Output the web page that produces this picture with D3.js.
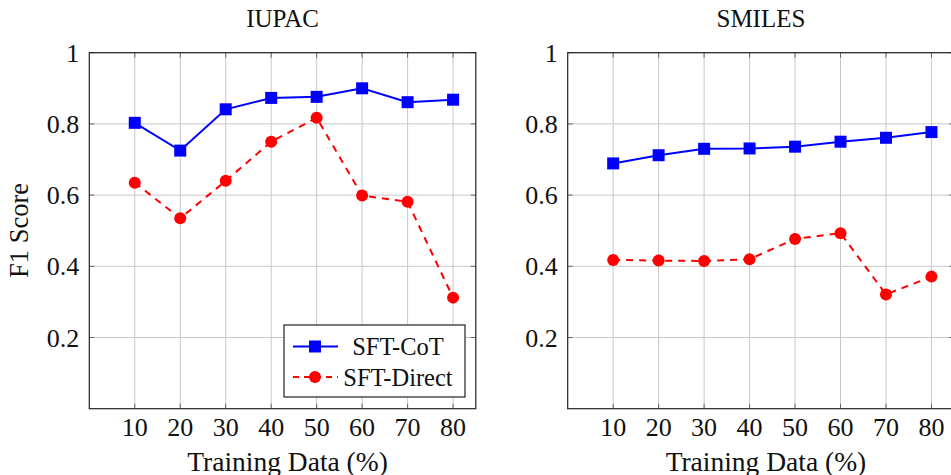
<!DOCTYPE html>
<html><head><meta charset="utf-8">
<script src="https://cdn.jsdelivr.net/npm/d3@7"></script>
<style>body{margin:0;background:#fff}svg{display:block}</style>
</head><body>
<svg id="c" width="951" height="475"></svg>
<script>
const xValues = [10, 20, 30, 40, 50, 60, 70, 80];
const xTicks = [10, 20, 30, 40, 50, 60, 70, 80];
const yTicks = [0.2, 0.4, 0.6, 0.8, 1];
const panels = ["IUPAC", "SMILES"];
const seriesNames = ["SFT-CoT", "SFT-Direct"];
const iupacCoT = [0.803, 0.725, 0.841, 0.873, 0.876, 0.900, 0.861, 0.868];
const iupacDirect = [0.635, 0.535, 0.640, 0.750, 0.817, 0.599, 0.581, 0.312];
const smilesCoT = [0.689, 0.712, 0.730, 0.731, 0.736, 0.750, 0.761, 0.777];
const smilesDirect = [0.418, 0.416, 0.415, 0.420, 0.477, 0.493, 0.321, 0.371];

const svg = d3.select("#c");
const font = "'Liberation Serif', 'Times New Roman', serif";
const W = 386.5, plotTop = 52.7, plotBottom = 408.7;
const lefts = [89.3, 567.7];
const data = [[iupacCoT, iupacDirect], [smilesCoT, smilesDirect]];
const y = d3.scaleLinear().domain([0, 1]).range([plotBottom, plotTop]);
const dash = "7,6";

panels.forEach((title, pi) => {
  const x = d3.scaleLinear().domain([0, 85]).range([lefts[pi], lefts[pi] + W]);
  const g = svg.append("g");
  g.selectAll(".gx").data(xTicks).join("line")
    .attr("x1", d => x(d)).attr("x2", d => x(d)).attr("y1", plotTop).attr("y2", plotBottom)
    .attr("stroke", "#c8c8c8").attr("stroke-width", 1);
  g.selectAll(".gy").data(yTicks).join("line")
    .attr("x1", x(0)).attr("x2", x(85)).attr("y1", d => y(d)).attr("y2", d => y(d))
    .attr("stroke", "#c8c8c8").attr("stroke-width", 1);
  const tl = 5;
  g.selectAll(".tb").data(xTicks).join("line")
    .attr("x1", d => x(d)).attr("x2", d => x(d)).attr("y1", plotBottom).attr("y2", plotBottom - tl)
    .attr("stroke", "#666").attr("stroke-width", 1);
  g.selectAll(".tt").data(xTicks).join("line")
    .attr("x1", d => x(d)).attr("x2", d => x(d)).attr("y1", plotTop).attr("y2", plotTop + tl)
    .attr("stroke", "#666").attr("stroke-width", 1);
  g.selectAll(".tlft").data(yTicks).join("line")
    .attr("x1", x(0)).attr("x2", x(0) + tl).attr("y1", d => y(d)).attr("y2", d => y(d))
    .attr("stroke", "#666").attr("stroke-width", 1);
  g.selectAll(".trt").data(yTicks).join("line")
    .attr("x1", x(85)).attr("x2", x(85) - tl).attr("y1", d => y(d)).attr("y2", d => y(d))
    .attr("stroke", "#666").attr("stroke-width", 1);
  g.append("rect").attr("x", x(0)).attr("y", plotTop).attr("width", x(85) - x(0)).attr("height", plotBottom - plotTop)
    .attr("fill", "none").attr("stroke", "#222").attr("stroke-width", 1.2);
  g.selectAll(".xl").data(xTicks).join("text")
    .attr("x", d => x(d)).attr("y", 436).attr("text-anchor", "middle")
    .attr("font-family", font).attr("font-size", 26).attr("fill", "#111").text(d => d);
  g.selectAll(".yl").data(yTicks).join("text")
    .attr("x", x(0) - 10).attr("y", d => y(d) + 9).attr("text-anchor", "end")
    .attr("font-family", font).attr("font-size", 26).attr("fill", "#111").text(d => d3.format("~g")(d));
  g.append("text").attr("x", x(0) + W / 2).attr("y", 27).attr("text-anchor", "middle")
    .attr("font-family", font).attr("font-size", 25).attr("fill", "#111").text(title);
  g.append("text").attr("x", x(0) + W / 2 + 5).attr("y", 470.5).attr("text-anchor", "middle")
    .attr("font-family", font).attr("font-size", 27.5).attr("fill", "#111").text("Training Data (%)");

  const line = d3.line().x((d, i) => x(xValues[i])).y(d => y(d));
  const [cot, dir] = data[pi];
  g.append("path").datum(cot).attr("d", line).attr("fill", "none").attr("stroke", "#0000ff").attr("stroke-width", 2);
  g.selectAll(".sq").data(cot).join("rect")
    .attr("x", (d, i) => x(xValues[i]) - 6).attr("y", d => y(d) - 6).attr("width", 12).attr("height", 12)
    .attr("fill", "#0000ff");
  g.append("path").datum(dir).attr("d", line).attr("fill", "none").attr("stroke", "#ff0000").attr("stroke-width", 2)
    .attr("stroke-dasharray", dash);
  g.selectAll(".ci").data(dir).join("circle")
    .attr("cx", (d, i) => x(xValues[i])).attr("cy", d => y(d)).attr("r", 6).attr("fill", "#ff0000");
});

svg.append("text").attr("transform", "translate(28,230.5) rotate(-90)").attr("text-anchor", "middle")
  .attr("font-family", font).attr("font-size", 26.5).attr("fill", "#111").text("F1 Score");

const lg = svg.append("g");
lg.append("rect").attr("x", 284).attr("y", 325).attr("width", 181).attr("height", 72)
  .attr("fill", "#fff").attr("stroke", "#222").attr("stroke-width", 1.2);
const ly = [346.5, 377];
seriesNames.forEach((n, i) => {
  lg.append("line").attr("x1", 293).attr("x2", 338).attr("y1", ly[i]).attr("y2", ly[i])
    .attr("stroke", i ? "#ff0000" : "#0000ff").attr("stroke-width", 2)
    .attr("stroke-dasharray", i ? "6,5" : null);
  if (i === 0) lg.append("rect").attr("x", 315 - 6).attr("y", ly[i] - 6).attr("width", 12).attr("height", 12).attr("fill", "#0000ff");
  else lg.append("circle").attr("cx", 315).attr("cy", ly[i]).attr("r", 6).attr("fill", "#ff0000");
  lg.append("text").attr("x", 398).attr("y", ly[i] + 8.5).attr("text-anchor", "middle")
    .attr("font-family", font).attr("font-size", 24.5).attr("fill", "#111").text(n);
});
</script>
</body></html>
